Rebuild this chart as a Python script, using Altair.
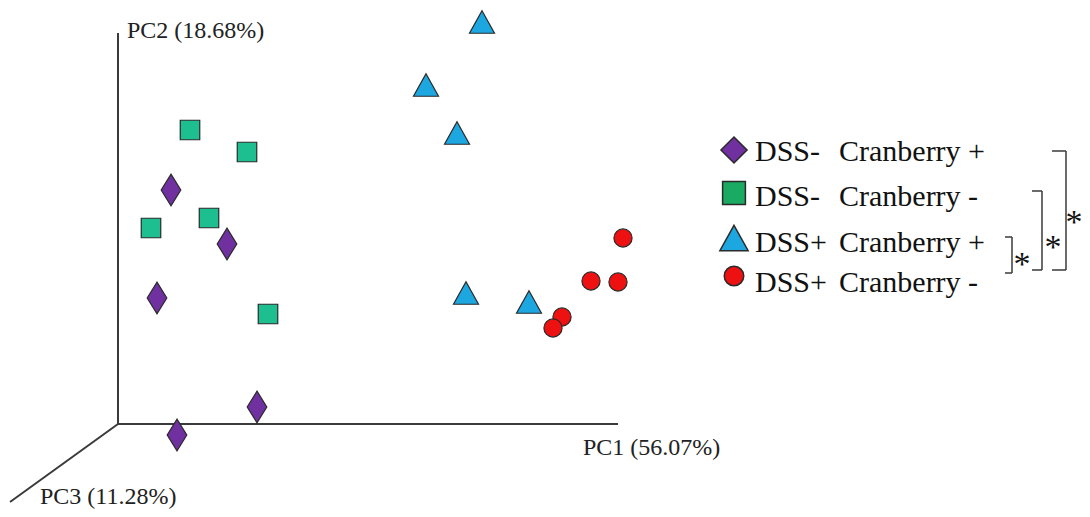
import altair as alt
import pandas as pd

# Projected PCA scores (plot units, PC1 horizontal, PC2 vertical)
groups = ["DSS- Cranberry +", "DSS- Cranberry -", "DSS+ Cranberry +", "DSS+ Cranberry -"]
g1_x = [5.3, 10.9, 3.9, 13.9, 5.9]
g1_y = [23.4, 18.0, 12.6, 1.7, -1.1]
g2_x = [7.2, 12.9, 3.3, 9.1, 15.0]
g2_y = [29.4, 27.2, 19.6, 20.6, 11.0]
g3_x = [36.4, 30.8, 33.9, 34.8, 41.1]
g3_y = [40.2, 33.9, 29.1, 13.1, 12.2]
g4_x = [50.5, 47.3, 50.0, 44.4, 43.5]
g4_y = [18.6, 14.3, 14.2, 10.7, 9.6]

# 3D axes frame (start/end of each axis line)
axis_x = [0, 0, 0]
axis_y = [0, 0, 0]
axis_x2 = [0, 50, -10.8]
axis_y2 = [39.1, 0, -7.8]
axis_labels = ["PC2 (18.68%)", "PC1 (56.07%)", "PC3 (11.28%)"]
axis_label_x = [0.9, 46.5, -7.8]
axis_label_y = [38.6, -3.1, -8.0]

# legend
leg_col1 = ["DSS-", "DSS-", "DSS+", "DSS+"]
leg_col2 = ["Cranberry +", "Cranberry -", "Cranberry +", "Cranberry -"]
leg_marker_x = 61.6
leg_text1_x = 63.7
leg_text2_x = 72.1
leg_marker_y = [27.4, 23.1, 18.6, 14.8]
leg_text_y = [26.3, 21.8, 17.2, 13.2]

# significance brackets
br_x = [93.4, 94.8, 93.4, 91.4, 92.4, 91.4, 88.7, 89.4, 88.7]
br_x2 = [94.8, 94.8, 94.8, 92.4, 92.4, 92.4, 89.4, 89.4, 89.4]
br_y = [27.3, 27.3, 15.4, 23.3, 23.3, 15.4, 18.7, 18.7, 15.1]
br_y2 = [27.3, 15.4, 15.4, 23.3, 15.4, 15.4, 18.7, 15.1, 15.1]
star_x = [95.6, 93.5, 90.4]
star_y = [19.1, 16.6, 14.9]

FONT = "Liberation Serif, Times New Roman, serif"
xs = alt.Scale(domain=[-11, 96.4], nice=False, zero=False)
ys = alt.Scale(domain=[-8.5, 41.6], nice=False, zero=False)
X = lambda f: alt.X(f, type="quantitative", scale=xs, axis=None)
Y = lambda f: alt.Y(f, type="quantitative", scale=ys, axis=None)

axes_df = pd.DataFrame({"x": axis_x, "y": axis_y, "x2": axis_x2, "y2": axis_y2})
axes = alt.Chart(axes_df).mark_rule(color="#3a3a3a", strokeWidth=2).encode(
    x=X("x"), y=Y("y"), x2="x2", y2="y2")

lab_df = pd.DataFrame({"x": axis_label_x, "y": axis_label_y, "t": axis_labels})
labs = alt.Chart(lab_df).mark_text(font=FONT, fontSize=24, align="left",
                                   baseline="alphabetic", color="#222").encode(
    x=X("x"), y=Y("y"), text="t:N")

DIAMOND = "M0,-1L0.62,0L0,1L-0.62,0Z"
TRIANGLE = "M0,-0.9L1,0.9L-1,0.9Z"
shapes = [DIAMOND, "square", TRIANGLE, "circle"]
fills = ["#7030A0", "#1DBE90", "#1DA7E0", "#EE1111"]
sizes = [1000, 380, 625, 330]
leg_shapes = ["diamond", "square", TRIANGLE, "circle"]
leg_fills = ["#7030A0", "#1AAA62", "#1DA7E0", "#EE1111"]
leg_sizes = [680, 520, 800, 380]
data_xy = [(g1_x, g1_y), (g2_x, g2_y), (g3_x, g3_y), (g4_x, g4_y)]

layers = [axes, labs]
for i, (gx, gy) in enumerate(data_xy):
    df = pd.DataFrame({"x": gx, "y": gy, "group": groups[i]})
    layers.append(alt.Chart(df).mark_point(shape=shapes[i], filled=True, fill=fills[i],
                                           stroke="#2a2a2a", strokeWidth=1.2, opacity=1,
                                           size=sizes[i]).encode(x=X("x"), y=Y("y")))
    ldf = pd.DataFrame({"x": [leg_marker_x], "y": [leg_marker_y[i]]})
    layers.append(alt.Chart(ldf).mark_point(shape=leg_shapes[i], filled=True, fill=leg_fills[i],
                                            stroke="#2a2a2a", strokeWidth=1.5, opacity=1,
                                            size=leg_sizes[i]).encode(x=X("x"), y=Y("y")))

leg_df = pd.DataFrame({"x1": [leg_text1_x] * 4, "x2": [leg_text2_x] * 4, "y": leg_text_y,
                       "a": leg_col1, "b": leg_col2})
leg1 = alt.Chart(leg_df).mark_text(font=FONT, fontSize=30, align="left", baseline="alphabetic",
                                   color="#111").encode(x=X("x1"), y=Y("y"), text="a:N")
leg2 = alt.Chart(leg_df).mark_text(font=FONT, fontSize=30, align="left", baseline="alphabetic",
                                   color="#111").encode(x=X("x2"), y=Y("y"), text="b:N")
layers += [leg1, leg2]

br_df = pd.DataFrame({"x": br_x, "x2": br_x2, "y": br_y, "y2": br_y2})
brackets = alt.Chart(br_df).mark_rule(color="#3a3a3a", strokeWidth=1.5).encode(
    x=X("x"), y=Y("y"), x2="x2", y2="y2")
st_df = pd.DataFrame({"x": star_x, "y": star_y, "t": ["*"] * 3})
stars = alt.Chart(st_df).mark_text(font=FONT, fontSize=34, align="center", baseline="alphabetic",
                                   color="#111").encode(x=X("x"), y=Y("y"), text="t:N")
layers += [brackets, stars]

chart = alt.layer(*layers).properties(
    width=1074, height=501, padding=0,
    autosize=alt.AutoSizeParams(type="none"),
    background="white"
).configure_view(stroke=None).configure_text(font=FONT)

chart.save("out.html", embed_options={"renderer": "svg", "actions": False})
